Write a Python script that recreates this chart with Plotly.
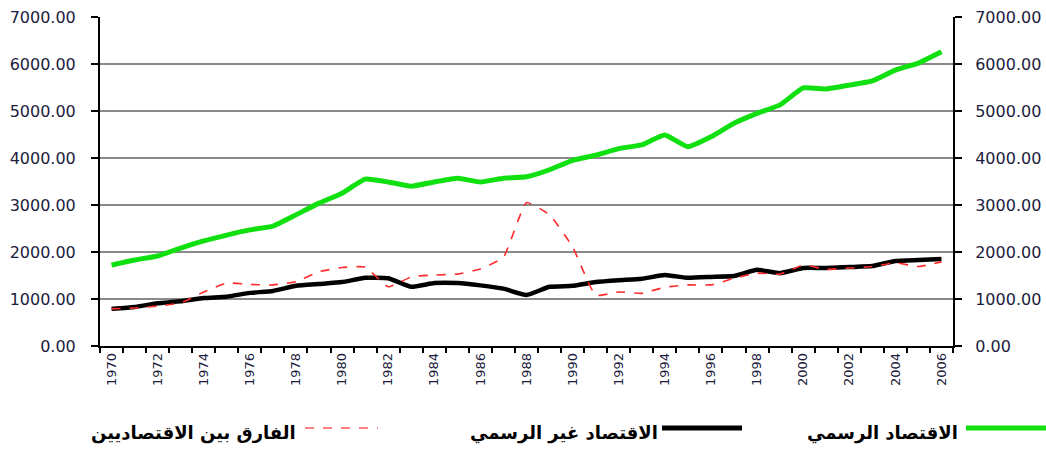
import plotly.graph_objects as go

years = list(range(1970, 2007))
official = [1720, 1830, 1915, 2085, 2235, 2360, 2470, 2550, 2790, 3040,
            3250, 3550, 3490, 3400, 3490, 3570, 3490, 3570, 3600, 3750,
            3950, 4060, 4200, 4280, 4490, 4240, 4450, 4740, 4950, 5130,
            5490, 5470, 5550, 5640, 5870, 6020, 6260]
informal = [790, 830, 910, 950, 1020, 1050, 1130, 1170, 1280, 1320,
            1360, 1450, 1440, 1260, 1340, 1340, 1290, 1220, 1085, 1260,
            1280, 1360, 1400, 1430, 1510, 1450, 1470, 1490, 1620, 1550,
            1660, 1660, 1680, 1700, 1810, 1830, 1850]
gap = [790, 810, 850, 915, 1150, 1340, 1310, 1300, 1370, 1580,
       1670, 1680, 1260, 1470, 1510, 1530, 1640, 1890, 3050, 2790,
       2110, 1080, 1150, 1120, 1250, 1300, 1300, 1440, 1550, 1530,
       1720, 1630, 1660, 1690, 1770, 1690, 1790]
xlabels = list(range(1970, 2007, 2))
yticks = list(range(0, 7001, 1000))

names = ["الاقتصاد الرسمي", "الاقتصاد غير الرسمي", "الفارق بين الاقتصاديين"]

fig = go.Figure()
fig.add_trace(go.Scatter(x=years, y=official, mode="lines", name=names[0],
                         line=dict(color="#10e010", width=5, shape="spline", smoothing=0.4)))
fig.add_trace(go.Scatter(x=years, y=informal, mode="lines", name=names[1],
                         line=dict(color="#000000", width=4.5, shape="spline", smoothing=0.4)))
fig.add_trace(go.Scatter(x=years, y=gap, mode="lines", name=names[2], yaxis="y2",
                         line=dict(color="#ff2a2a", width=1.6, dash="dash", shape="spline", smoothing=0.4)))

L, R, T, B = 100, 93, 17, 104
W, H = 1046, 450
pw, ph = W - L - R, H - T - B

def px(x):
    return (x - L) / pw

def py(y):
    return (H - B - y) / ph

tickfont = dict(family="DejaVu Sans", size=16, color="#1c1c3c")

fig.update_layout(
    width=W, height=H,
    margin=dict(l=L, r=R, t=T, b=B, autoexpand=False),
    plot_bgcolor="white", paper_bgcolor="white",
    showlegend=False,
    xaxis=dict(range=[1969.5, 2006.5], tickmode="array", tickvals=xlabels,
               ticktext=[str(v) for v in xlabels], ticks="", tickangle=-90,
               tickfont=dict(family="DejaVu Sans", size=13, color="#1c1c3c"),
               showgrid=False, showline=True, linecolor="black", linewidth=1.5,
               automargin=False,
               minor=dict(tickmode="array", tickvals=[y - 0.5 for y in years] + [2006.5],
                          ticks="outside", ticklen=5, tickwidth=1.5, tickcolor="black",
                          showgrid=False)),
    yaxis=dict(range=[0, 7000], tickmode="array", tickvals=yticks,
               ticktext=[f"{v:.2f}" for v in yticks], ticks="outside", ticklen=7,
               tickcolor="black", tickwidth=1.5, tickfont=tickfont, ticklabelstandoff=12,
               showgrid=True, gridcolor="#8a8a8a", gridwidth=1.5, automargin=False,
               showline=True, linecolor="black", linewidth=2, zeroline=False),
    yaxis2=dict(range=[0, 7000], overlaying="y", side="right", tickmode="array",
                tickvals=yticks, ticktext=[f"{v:.2f}" for v in yticks],
                ticks="outside", ticklen=7, tickcolor="black", tickwidth=1.5,
                tickfont=tickfont, showgrid=False, showline=True, automargin=False,
                linecolor="black", linewidth=2, zeroline=False, ticklabelstandoff=10),
)

shapes = []
for v in (1000, 4000):
    shapes.append(dict(type="line", xref="paper", yref="y", x0=0, x1=1, y0=v, y1=v,
                       line=dict(color="black", width=2), layer="below"))

# legend (right-to-left layout as in the original)
ly = py(428)
shapes.append(dict(type="line", xref="paper", yref="paper", x0=px(966), x1=px(1046),
                   y0=ly, y1=ly, line=dict(color="#10e010", width=5)))
shapes.append(dict(type="line", xref="paper", yref="paper", x0=px(662), x1=px(742),
                   y0=ly, y1=ly, line=dict(color="black", width=5)))
shapes.append(dict(type="line", xref="paper", yref="paper", x0=px(305), x1=px(378),
                   y0=ly, y1=ly, line=dict(color="#ff5a5a", width=1.5, dash="dash")))
fig.update_layout(shapes=shapes)

legfont = dict(family="DejaVu Sans", size=18, color="black")
for txt, xr in ((names[0], 960), (names[1], 660), (names[2], 298)):
    fig.add_annotation(text=f"<b>{txt}</b>", xref="paper", yref="paper",
                       x=px(xr), y=py(433), xanchor="right", yanchor="middle",
                       showarrow=False, font=legfont)

fig.write_html("out.html", config={"displayModeBar": False},
               post_script="document.body.style.margin='0';document.body.style.padding='0';")
